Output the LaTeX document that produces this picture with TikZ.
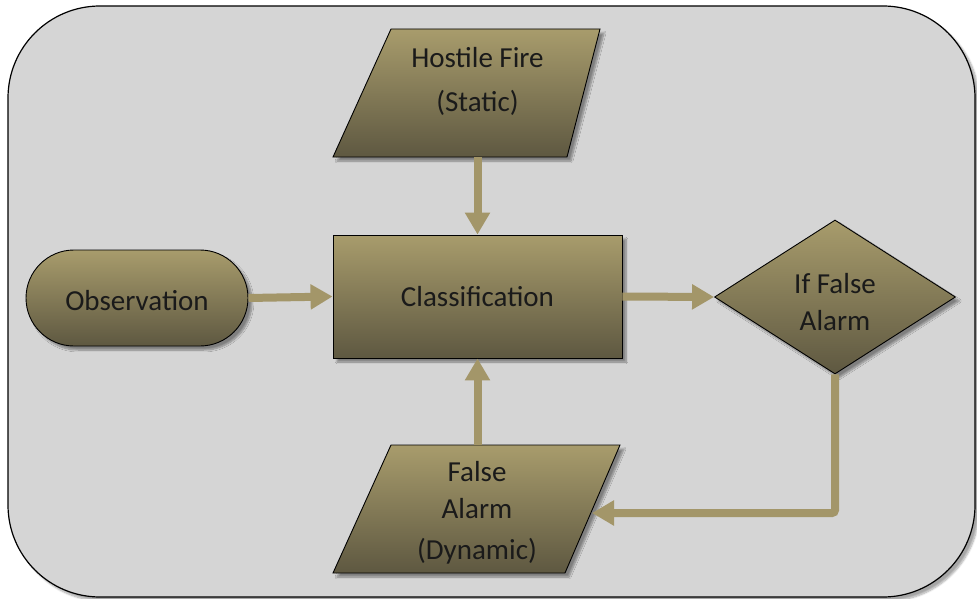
\documentclass[tikz,border=0pt]{standalone}
\usepackage{fontspec}
\setmainfont{Carlito}
\usetikzlibrary{shadows.blur,arrows.meta,shapes.geometric}
\definecolor{bgc}{HTML}{D5D5D5}
\definecolor{topc}{HTML}{A89C6C}
\definecolor{botc}{HTML}{5E5841}
\definecolor{arrc}{HTML}{A39669}
\definecolor{txtc}{HTML}{1A1A1A}
\begin{document}
\begin{tikzpicture}[x=1pt,y=-1pt,
  shapefill/.style={top color=topc,bottom color=botc,draw=black,line width=0.9pt,
    blur shadow={shadow xshift=4pt,shadow yshift=-4pt,shadow blur steps=8,shadow opacity=40}},
  lbl/.style={text=txtc,align=center,font=\fontsize{29}{37}\selectfont,inner sep=0pt},
  arr/.style={draw=arrc,line width=8pt,-{Triangle[width=24pt,length=22pt]}}]
\useasboundingbox (0,0) rectangle (977,599);
% background
\draw[fill=bgc,line width=1.2pt,rounded corners=92pt,
  blur shadow={shadow xshift=4pt,shadow yshift=-4pt,shadow blur steps=8,shadow opacity=35}]
  (8,6) rectangle (975,597);
% Hostile fire parallelogram
\path[shapefill] (391,29) -- (600,29) -- (567,157) -- (333,157) -- cycle;
\node[lbl] (hf) at (477.5,81) {Hostile Fire\\[7pt](Static)};
\coordinate (hfb) at (477.5,157);
% False alarm parallelogram
\path[shapefill] (391,445) -- (620,445) -- (565,573) -- (333,573) -- cycle;
\node[lbl] (fa) at (477,513) {False\\Alarm\\[4pt](Dynamic)};
\coordinate (fat) at (477.5,445);
\coordinate (far) at (592,513);
% Observation
\node[shapefill,minimum width=222pt,minimum height=96pt,rounded corners=48pt] (obs) at (137,298) {};
\node[lbl] (obst) at (137,301) {Observation};
% Classification
\node[shapefill,lbl,minimum width=289pt,minimum height=123pt] (cls) at (477.5,296.5) {Classification};
% Diamond
\node[shapefill,diamond,inner sep=0pt,minimum width=241pt,minimum height=154pt] (dia) at (835,297) {};
\node[lbl] (diat) at (835,302) {If False\\Alarm};
% arrows
\draw[arr] (hfb) -- (cls.north);
\draw[arr] (obs.east) -- (cls.west);
\draw[arr] (cls.east) -- (dia.west);
\draw[arr,rounded corners=3pt] (dia.south) |- (far);
\draw[arr] (fat) -- (cls.south);
\end{tikzpicture}
\end{document}
